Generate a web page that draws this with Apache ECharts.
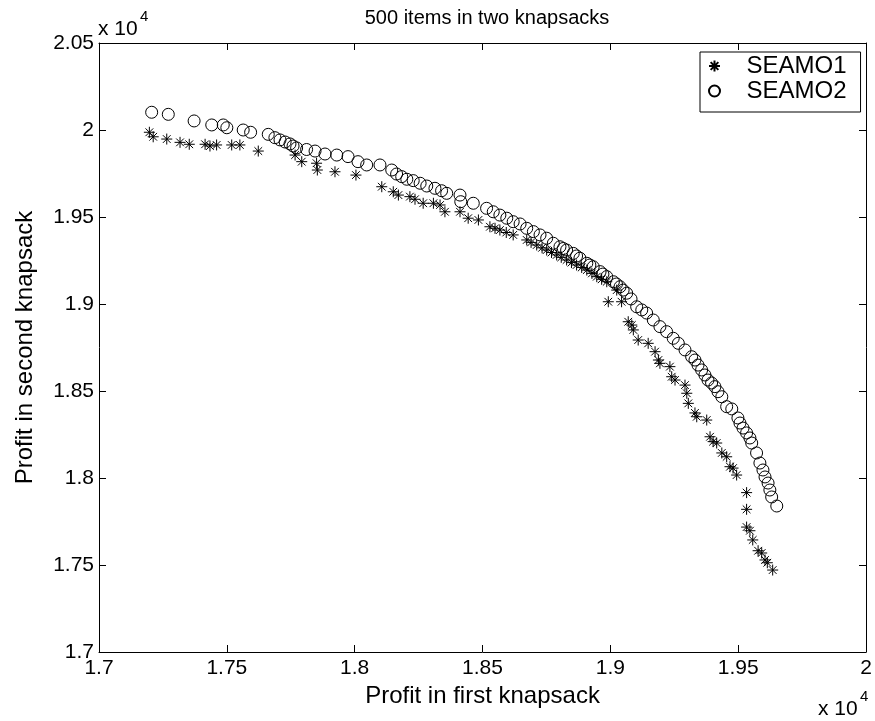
<!DOCTYPE html>
<html>
<head>
<meta charset="utf-8">
<title>500 items in two knapsacks</title>
<script src="https://cdn.jsdelivr.net/npm/echarts@6/dist/echarts.min.js"></script>
<style>
  html, body { margin: 0; padding: 0; background: #fff; }
  #chart { width: 875px; height: 721px; }
</style>
</head>
<body>
<div id="chart"></div>
<script>
// Non-dominated solutions found by each algorithm (profit in knapsack 1, profit in knapsack 2)
const seamo1X = [17197, 17212, 17265, 17317, 17353, 17415, 17434, 17460, 17519, 17551,
  17623, 17767, 17793, 17851, 17854, 17923, 18005, 18106, 18151, 18171,
  18216, 18236, 18268, 18308, 18334, 18353, 18412, 18444, 18484, 18529,
  18549, 18568, 18593, 18620, 18673, 18690, 18712, 18733, 18751, 18770,
  18790, 18808, 18829, 18848, 18868, 18888, 18908, 18928, 18947, 18966,
  18986, 18992, 19025, 19044, 19070, 19084, 19090, 19109, 19148, 19175,
  19188, 19194, 19233, 19240, 19253, 19292, 19299, 19305, 19331, 19338,
  19377, 19390, 19402, 19416, 19436, 19455, 19468, 19480, 19494, 19533,
  19533, 19533, 19546, 19557, 19578, 19592, 19605, 19614, 19635];
const seamo1Y = [19987, 19961, 19948, 19929, 19918, 19918, 19908, 19914, 19914, 19914,
  19879, 19856, 19818, 19809, 19770, 19760, 19741, 19674, 19645, 19626,
  19617, 19602, 19579, 19579, 19569, 19530, 19530, 19493, 19483, 19444,
  19435, 19425, 19411, 19397, 19368, 19354, 19339, 19323, 19310, 19296,
  19282, 19268, 19253, 19238, 19224, 19210, 19195, 19176, 19157, 19142,
  19128, 19013, 19080, 19013, 18898, 18879, 18851, 18793, 18774, 18726,
  18678, 18659, 18640, 18582, 18563, 18534, 18487, 18429, 18374, 18352,
  18333, 18237, 18209, 18201, 18144, 18122, 18065, 18057, 18017, 17916,
  17820, 17718, 17697, 17644, 17582, 17569, 17529, 17513, 17471];

const seamo2X = [17206, 17271, 17372, 17441, 17486, 17500, 17564, 17593, 17662, 17688,
  17708, 17728, 17747, 17759, 17773, 17812, 17845, 17884, 17930, 17974,
  18013, 18047, 18099, 18145, 18164, 18184, 18204, 18229, 18256, 18282,
  18314, 18340, 18360, 18412, 18415, 18464, 18516, 18542, 18568, 18595,
  18620, 18647, 18673, 18699, 18725, 18751, 18777, 18803, 18816, 18829,
  18855, 18868, 18881, 18908, 18920, 18933, 18960, 18971, 18986, 19012,
  19024, 19038, 19050, 19064, 19081, 19103, 19123, 19142, 19168, 19194,
  19220, 19246, 19266, 19292, 19318, 19331, 19343, 19357, 19370, 19382,
  19396, 19409, 19421, 19436, 19455, 19475, 19499, 19507, 19519, 19533,
  19546, 19553, 19572, 19585, 19597, 19605, 19617, 19624, 19631, 19651];
const seamo2Y = [20102, 20090, 20052, 20029, 20029, 20013, 20000, 19987, 19975, 19956,
  19943, 19931, 19920, 19908, 19897, 19888, 19879, 19862, 19856, 19847,
  19818, 19799, 19799, 19770, 19747, 19732, 19717, 19709, 19694, 19678,
  19665, 19651, 19636, 19626, 19588, 19579, 19550, 19530, 19511, 19493,
  19473, 19460, 19435, 19416, 19397, 19378, 19349, 19329, 19319, 19310,
  19291, 19276, 19263, 19234, 19224, 19214, 19186, 19172, 19157, 19128,
  19115, 19099, 19080, 19062, 19029, 18984, 18966, 18948, 18908, 18870,
  18841, 18803, 18774, 18736, 18697, 18678, 18649, 18621, 18592, 18563,
  18546, 18525, 18496, 18467, 18410, 18397, 18345, 18316, 18287, 18259,
  18230, 18201, 18144, 18086, 18046, 18006, 17971, 17931, 17891, 17839];

// Axis ranges (raw profit values; tick labels are shown in units of 10^4)
const xMin = 17000, xMax = 20000, xStep = 500;
const yMin = 17000, yMax = 20500, yStep = 500;
const seriesNames = ['SEAMO1', 'SEAMO2'];

const FONT = 'Liberation Sans, Arial, Helvetica, sans-serif';
const TICK_FS = 21;
const NAME_FS = 24;

const pairs = (xs, ys) => xs.map((x, i) => [x, ys[i]]);
const tickLabel = v => String(+(v / 10000).toFixed(4));

// MATLAB-style asterisk marker: a plus sign overlaid with a cross
const STAR = 'path://M5,0L5,10M0,5L10,5M1.5,1.5L8.5,8.5M8.5,1.5L1.5,8.5';

const lineStyle = { color: '#000', width: 1 };
const baseAxis = (extra) => Object.assign({
  type: 'value',
  splitLine: { show: false },
  axisLine: { show: true, onZero: false, lineStyle },
  axisTick: { show: true, inside: true, length: 7, lineStyle },
  axisLabel: { show: false },
}, extra);

const chart = echarts.init(document.getElementById('chart'), null, { renderer: 'canvas' });
chart.setOption({
  animation: false,
  backgroundColor: '#fff',
  textStyle: { fontFamily: FONT, color: '#000' },
  title: {
    text: '500 items in two knapsacks',
    left: 482, top: 3, textAlign: 'center',
    textStyle: { fontFamily: FONT, fontSize: 20, fontWeight: 'normal', color: '#000' }
  },
  grid: { left: 99, right: 9, top: 43, bottom: 69, containLabel: false },
  legend: {
    data: seriesNames,
    orient: 'vertical',
    left: 700, top: 52,
    padding: [2, 14, 9, 8],
    itemGap: 1,
    itemWidth: 18, itemHeight: 11,
    backgroundColor: '#fff',
    borderColor: '#000', borderWidth: 1, borderRadius: 0,
    selectedMode: false,
    textStyle: { fontFamily: FONT, fontSize: 24, color: '#000', padding: [0, 0, 0, 18] }
  },
  xAxis: [
    baseAxis({
      min: xMin, max: xMax, interval: xStep, position: 'bottom',
      axisLabel: { show: true, formatter: tickLabel, fontFamily: FONT, fontSize: TICK_FS, color: '#000', margin: 6 },
      name: 'Profit in first knapsack', nameLocation: 'middle', nameGap: 26,
      nameTextStyle: { fontFamily: FONT, fontSize: NAME_FS, color: '#000' }
    }),
    baseAxis({ min: xMin, max: xMax, interval: xStep, position: 'top' })
  ],
  yAxis: [
    baseAxis({
      min: yMin, max: yMax, interval: yStep, position: 'left',
      axisLabel: { show: true, formatter: tickLabel, fontFamily: FONT, fontSize: TICK_FS, color: '#000', margin: 5 },
      name: 'Profit in second knapsack', nameLocation: 'middle', nameGap: 62, nameRotate: 90,
      nameTextStyle: { fontFamily: FONT, fontSize: NAME_FS, color: '#000' }
    }),
    baseAxis({ min: yMin, max: yMax, interval: yStep, position: 'right' })
  ],
  graphic: [
    { type: 'text', left: 98, top: 19, style: { text: 'x 10', font: '21px ' + FONT, fill: '#000' } },
    { type: 'text', left: 140, top: 9, style: { text: '4', font: '15px ' + FONT, fill: '#000' } },
    { type: 'text', left: 818, top: 699, style: { text: 'x 10', font: '21px ' + FONT, fill: '#000' } },
    { type: 'text', left: 860, top: 689, style: { text: '4', font: '15px ' + FONT, fill: '#000' } }
  ],
  series: [
    {
      name: seriesNames[0], type: 'scatter',
      xAxisIndex: 0, yAxisIndex: 0,
      symbol: STAR, symbolSize: 11,
      itemStyle: { color: 'rgba(0,0,0,0)', borderColor: '#000', borderWidth: 1, opacity: 1 },
      emphasis: { disabled: true },
      data: pairs(seamo1X, seamo1Y)
    },
    {
      name: seriesNames[1], type: 'scatter',
      xAxisIndex: 0, yAxisIndex: 0,
      symbol: 'circle', symbolSize: 12,
      itemStyle: { color: 'rgba(0,0,0,0)', borderColor: '#000', borderWidth: 1, opacity: 1 },
      emphasis: { disabled: true },
      data: pairs(seamo2X, seamo2Y)
    }
  ]
});
</script>
</body>
</html>
